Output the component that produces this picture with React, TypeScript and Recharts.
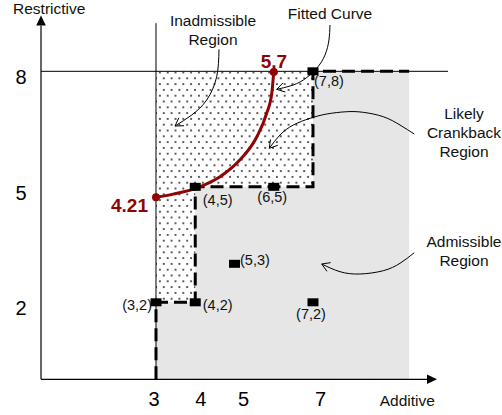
import React from 'react';
import {
  ComposedChart,
  XAxis,
  YAxis,
  Line,
  Scatter,
  ReferenceArea,
  ReferenceLine,
  ReferenceDot,
} from 'recharts';

// ---------- data ----------
const X_TICKS = [3, 4, 5, 7];
const Y_TICKS = [2, 5, 8];
const X_DOMAIN: [number, number] = [0.07, 10.45];
const Y_DOMAIN: [number, number] = [0, 9.45];

const CANDIDATES = [
  { x: 3, y: 2 },
  { x: 4, y: 2 },
  { x: 4, y: 5 },
  { x: 6, y: 5 },
  { x: 7, y: 8 },
  { x: 5, y: 3 },
  { x: 7, y: 2 },
];

const BOUNDARY = [
  { x: 3, y: 0 },
  { x: 3, y: 2 },
  { x: 4, y: 2 },
  { x: 4, y: 5 },
  { x: 7, y: 5 },
  { x: 7, y: 8 },
  { x: 9.45, y: 8 },
];

const FITTED = [
  { x: 3.0, y: 4.73 },
  { x: 3.44, y: 4.81 },
  { x: 4.12, y: 5.0 },
  { x: 4.63, y: 5.26 },
  { x: 5.14, y: 5.7 },
  { x: 5.57, y: 6.3 },
  { x: 5.82, y: 6.91 },
  { x: 5.95, y: 7.43 },
  { x: 6.0, y: 7.98 },
];
const FITTED_START_LABEL = '4.21';
const FITTED_END_LABEL = '5,7';

const GREY_REGION = { x1: 3, x2: 9.45, y1: 0, y2: 8 };
const DOTTED_REGIONS = [
  { x1: 3, x2: 7, y1: 5, y2: 8 },
  { x1: 3, x2: 4, y1: 2, y2: 5 },
];

const AXIS_X = [{ x: 0.07, y: 0 }, { x: 10.16, y: 0 }];
const AXIS_Y = [{ x: 0.07, y: 0 }, { x: 0.07, y: 9.45 }];
const LINE_Y8 = [{ x: 0.07, y: 8 }, { x: 10.44, y: 8 }];
const LINE_X3 = [{ x: 3, y: 0 }, { x: 3, y: 9.25 }];

const ARROW_INADMISSIBLE = [
  { x: 4.605, y: 8.571 },
  { x: 4.546, y: 7.86 },
  { x: 4.292, y: 7.255 },
  { x: 3.909, y: 6.865 },
  { x: 3.484, y: 6.579 },
];
const ARROW_FITTED = [
  { x: 7.433, y: 9.203 },
  { x: 7.407, y: 8.813 },
  { x: 7.306, y: 8.423 },
  { x: 7.094, y: 8.078 },
  { x: 6.753, y: 7.774 },
  { x: 6.414, y: 7.618 },
  { x: 6.075, y: 7.532 },
];
const ARROW_CRANKBACK = [
  { x: 9.581, y: 6.371 },
  { x: 9.217, y: 6.605 },
  { x: 8.791, y: 6.821 },
  { x: 8.281, y: 6.935 },
  { x: 7.858, y: 6.951 },
  { x: 7.349, y: 6.891 },
  { x: 6.924, y: 6.779 },
  { x: 6.498, y: 6.605 },
  { x: 6.159, y: 6.345 },
  { x: 5.887, y: 6.0 },
];
const ARROW_ADMISSIBLE = [
  { x: 9.581, y: 3.288 },
  { x: 9.217, y: 3.013 },
  { x: 8.791, y: 2.821 },
  { x: 8.197, y: 2.735 },
  { x: 7.688, y: 2.795 },
  { x: 7.222, y: 2.995 },
];
const ARROWS = [ARROW_INADMISSIBLE, ARROW_FITTED, ARROW_CRANKBACK, ARROW_ADMISSIBLE];

// ---------- annotation text (anchored in data coordinates) ----------
const NOTES = [
  { x: -0.643, y: 9.49, lines: ['Restrictive'], anchor: 'start' },
  { x: 8.7, y: -0.694, lines: ['Additive'], anchor: 'start' },
  { x: 4.452, y: 9.18, lines: ['Inadmissible', 'Region'], anchor: 'middle' },
  { x: 7.433, y: 9.35, lines: ['Fitted Curve'], anchor: 'middle' },
  { x: 10.847, y: 6.75, lines: ['Likely', 'Crankback', 'Region'], anchor: 'middle' },
  { x: 10.847, y: 3.43, lines: ['Admissible', 'Region'], anchor: 'middle' },
];
const RED_NOTES = [
  { x: 2.796, y: 4.345, text: FITTED_START_LABEL, anchor: 'end' },
  { x: 6.006, y: 8.086, text: FITTED_END_LABEL, anchor: 'middle' },
];

// ---------- styles ----------
const FONT = '"Liberation Sans", Arial, sans-serif';
const RED = '#8f0505';
const X_TICK_NUDGE: Record<number, number> = { 3: -2, 4: 5.5, 5: 9, 7: 7.5 };
const LABEL_PLACE: Record<string, { dx: number; dy: number; anchor: string }> = {
  '3,2': { dx: -4, dy: 8, anchor: 'end' },
  '4,2': { dx: 7.5, dy: 8, anchor: 'start' },
  '4,5': { dx: 7.5, dy: 18.5, anchor: 'start' },
  '6,5': { dx: -1.5, dy: 15.5, anchor: 'middle' },
  '7,8': { dx: 1, dy: 15, anchor: 'start' },
  '5,3': { dx: 5.5, dy: 1, anchor: 'start' },
  '7,2': { dx: -2, dy: 17, anchor: 'middle' },
};

const XTick = (props: any) => {
  const { x, y, payload } = props;
  return (
    <text
      x={x + (X_TICK_NUDGE[payload.value] || 0)}
      y={y + 26.5}
      textAnchor="middle"
      fontSize={20}
      fontFamily={FONT}
      fill="#000"
    >
      {payload.value}
    </text>
  );
};

const YTick = (props: any) => {
  const { x, y, payload } = props;
  return (
    <text x={x - 20} y={y + 13} textAnchor="middle" fontSize={20} fontFamily={FONT} fill="#000">
      {payload.value}
    </text>
  );
};

const AxisArrow = (props: any) => {
  const { x1, y1, x2, y2 } = props;
  const ang = Math.atan2(y2 - y1, x2 - x1);
  const L = 10;
  const W = 4.8;
  const bx = x2 - L * Math.cos(ang);
  const by = y2 - L * Math.sin(ang);
  const px = -Math.sin(ang) * W;
  const py = Math.cos(ang) * W;
  return (
    <g>
      <line x1={x1} y1={y1} x2={bx} y2={by} stroke="#000" strokeWidth={1.2} />
      <polygon points={`${x2},${y2} ${bx + px},${by + py} ${bx - px},${by - py}`} fill="#000" />
    </g>
  );
};

const Chevron = (props: any) => {
  const { x1, y1, x2, y2 } = props;
  const ang = Math.atan2(y2 - y1, x2 - x1);
  const L = 9;
  const a = 0.55;
  const ax = x2 - L * Math.cos(ang - a);
  const ay = y2 - L * Math.sin(ang - a);
  const bx = x2 - L * Math.cos(ang + a);
  const by = y2 - L * Math.sin(ang + a);
  return (
    <path d={`M${ax},${ay} L${x2},${y2} L${bx},${by}`} fill="none" stroke="#000" strokeWidth={1} />
  );
};

const PlainLine = (props: any) => {
  const { x1, y1, x2, y2 } = props;
  return <line x1={x1} y1={y1} x2={x2} y2={y2} stroke="#000" strokeWidth={1} />;
};

const SquareShape = (props: any) => {
  const { cx, cy, payload } = props;
  const key = `${payload.x},${payload.y}`;
  const place = LABEL_PLACE[key] || { dx: 7, dy: 5, anchor: 'start' };
  return (
    <g>
      <rect x={cx - 5.5} y={cy - 4} width={11} height={8} fill="#000" />
      <text
        x={cx + place.dx}
        y={cy + place.dy}
        textAnchor={place.anchor as any}
        fontSize={14.5}
        fontFamily={FONT}
        fill="#111"
      >
        {`(${payload.x},${payload.y})`}
      </text>
    </g>
  );
};

const FittedDot = (props: any) => {
  const { cx, cy, index } = props;
  if (index !== 0 && index !== FITTED.length - 1) return <g key={`fd${index}`} />;
  return <circle key={`fd${index}`} cx={cx} cy={cy} r={4} fill={RED} />;
};

const makeNoteShape = (lines: string[], anchor: string) => (props: any) => {
  const { cx, cy } = props;
  return (
    <text x={cx} y={cy} textAnchor={anchor as any} fontSize={15.5} fontFamily={FONT} fill="#111">
      {lines.map((l, i) => (
        <tspan key={i} x={cx} dy={i === 0 ? 0 : 19}>
          {l}
        </tspan>
      ))}
    </text>
  );
};

const makeRedShape = (text: string, anchor: string) => (props: any) => {
  const { cx, cy } = props;
  return (
    <text
      x={cx}
      y={cy}
      textAnchor={anchor as any}
      fontSize={19}
      fontWeight="bold"
      fontFamily={FONT}
      fill={RED}
    >
      {text}
    </text>
  );
};

export default function App() {
  return (
    <div style={{ position: 'absolute', left: 0, top: 0, width: 502, height: 415, background: '#fff' }}>
      <ComposedChart
        width={502}
        height={415}
        margin={{ top: 15.5, right: 53.6, bottom: 5.7, left: 0 }}
      >
        <defs>
          <pattern id="dots" width={15.6} height={11.6} patternUnits="userSpaceOnUse">
            <rect x={0} y={0} width={15.6} height={11.6} fill="#fff" />
            <circle cx={3.9} cy={2.9} r={1} fill="#222" />
            <circle cx={11.7} cy={2.9} r={1} fill="#222" />
            <circle cx={7.8} cy={8.7} r={1} fill="#222" />
            <circle cx={0} cy={8.7} r={1} fill="#222" />
            <circle cx={15.6} cy={8.7} r={1} fill="#222" />
          </pattern>
        </defs>
        <XAxis
          type="number"
          dataKey="x"
          domain={X_DOMAIN}
          allowDataOverflow
          ticks={X_TICKS}
          axisLine={false}
          tickLine={false}
          tickSize={0}
          tickMargin={0}
          height={30}
          tick={<XTick />}
          interval={0}
        />
        <YAxis
          type="number"
          dataKey="y"
          domain={Y_DOMAIN}
          allowDataOverflow
          ticks={Y_TICKS}
          axisLine={false}
          tickLine={false}
          tickSize={0}
          tickMargin={0}
          width={41}
          tick={<YTick />}
          interval={0}
        />

        <ReferenceArea
          x1={GREY_REGION.x1}
          x2={GREY_REGION.x2}
          y1={GREY_REGION.y1}
          y2={GREY_REGION.y2}
          fill="#e6e6e6"
          fillOpacity={1}
          stroke="none"
          ifOverflow="visible"
        />
        {DOTTED_REGIONS.map((r, i) => (
          <ReferenceArea
            key={`dr${i}`}
            x1={r.x1}
            x2={r.x2}
            y1={r.y1}
            y2={r.y2}
            fill="url(#dots)"
            fillOpacity={1}
            stroke="none"
            ifOverflow="visible"
          />
        ))}

        <ReferenceLine segment={LINE_Y8} ifOverflow="visible" shape={(p: any) => <PlainLine {...p} />} />
        <ReferenceLine segment={LINE_X3} ifOverflow="visible" shape={(p: any) => <PlainLine {...p} />} />
        <ReferenceLine segment={AXIS_X} ifOverflow="visible" shape={(p: any) => <AxisArrow {...p} />} />
        <ReferenceLine segment={AXIS_Y} ifOverflow="visible" shape={(p: any) => <AxisArrow {...p} />} />

        {ARROWS.map((a, i) => (
          <Line
            key={`al${i}`}
            data={a}
            dataKey="y"
            type="natural"
            stroke="#000"
            strokeWidth={1}
            dot={false}
            activeDot={false}
            isAnimationActive={false}
          />
        ))}
        {ARROWS.map((a, i) => (
          <ReferenceLine
            key={`ah${i}`}
            segment={[a[a.length - 2], a[a.length - 1]]}
            ifOverflow="visible"
            shape={(p: any) => <Chevron {...p} />}
          />
        ))}

        <Line
          data={BOUNDARY}
          dataKey="y"
          type="linear"
          stroke="#000"
          strokeWidth={3}
          strokeDasharray="13 6"
          dot={false}
          activeDot={false}
          isAnimationActive={false}
        />
        <Line
          data={FITTED}
          dataKey="y"
          type="monotone"
          stroke={RED}
          strokeWidth={3}
          dot={FittedDot}
          activeDot={false}
          isAnimationActive={false}
        />
        <Scatter data={CANDIDATES} dataKey="y" shape={SquareShape} isAnimationActive={false} />

        {NOTES.map((n, i) => (
          <ReferenceDot
            key={`n${i}`}
            x={n.x}
            y={n.y}
            r={0}
            ifOverflow="visible"
            shape={makeNoteShape(n.lines, n.anchor)}
          />
        ))}
        {RED_NOTES.map((n, i) => (
          <ReferenceDot
            key={`rn${i}`}
            x={n.x}
            y={n.y}
            r={0}
            ifOverflow="visible"
            shape={makeRedShape(n.text, n.anchor)}
          />
        ))}
      </ComposedChart>
    </div>
  );
}
